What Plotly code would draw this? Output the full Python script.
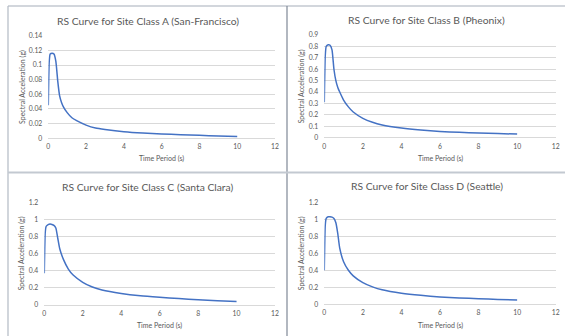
import plotly.graph_objects as go

# ---- data ----
periods = [0, 0.05, 0.1, 0.2, 0.3, 0.4, 0.5, 0.6, 0.7, 0.8, 1.0, 1.25, 1.5,
           2, 2.5, 3, 4, 5, 6, 7, 8, 9, 10]
sa_class_a = [0.045, 0.105, 0.115, 0.116, 0.115, 0.105, 0.078, 0.058, 0.049, 0.043,
              0.035, 0.028, 0.024, 0.018, 0.014, 0.012, 0.009, 0.0072, 0.006, 0.005,
              0.004, 0.003, 0.0023]
sa_class_b = [0.31, 0.72, 0.80, 0.815, 0.81, 0.77, 0.60, 0.50, 0.44, 0.40, 0.33, 0.27,
              0.225, 0.17, 0.135, 0.112, 0.085, 0.067, 0.055, 0.047, 0.041, 0.036, 0.032]
sa_class_c = [0.37, 0.85, 0.92, 0.94, 0.945, 0.94, 0.93, 0.90, 0.78, 0.66, 0.53, 0.42,
              0.35, 0.265, 0.21, 0.175, 0.135, 0.108, 0.09, 0.075, 0.062, 0.05, 0.04]
sa_class_d = [0.40, 0.93, 1.01, 1.03, 1.03, 1.025, 1.01, 0.96, 0.83, 0.66, 0.50, 0.40,
              0.335, 0.255, 0.205, 0.17, 0.13, 0.105, 0.087, 0.075, 0.065, 0.057, 0.05]

titles = ["RS Curve for Site Class A (San-Francisco)",
          "RS Curve for Site Class B (Pheonix)",
          "RS Curve for Site Class C (Santa Clara)",
          "RS Curve for Site Class D (Seattle)"]
y_ranges = [(0, 0.14, 0.02), (0, 0.9, 0.1), (0, 1.2, 0.2), (0, 1.2, 0.2)]
x_range = (0, 12, 2)
x_title = "Time Period (s)"
y_title = "Spectral Acceleration (g)"

W, H = 565, 336
# plot areas in pixels: (left, right, top, bottom)
areas = [(48.3, 275, 35.7, 138.3), (324.3, 555.7, 35, 137.7),
         (44.3, 275, 202.3, 305), (324.3, 555.7, 202.3, 304.3)]
title_pos = [(147.5, 20.5), (426.5, 20), (147.5, 186.5), (426.5, 186)]
xtitle_y = [158, 158.3, 325, 325.5]
ytitle_x = [23, 301, 21.7, 301]

FONT = "Lato"
GREY = "#595959"
GRID = "#d9d9d9"
BLUE = "#4472C4"

fig = go.Figure()
series = [sa_class_a, sa_class_b, sa_class_c, sa_class_d]
layout = dict(width=W, height=H, margin=dict(l=0, r=0, t=0, b=0, autoexpand=False),
              paper_bgcolor="white", plot_bgcolor="white", showlegend=False)
annotations = []
tfont = dict(family=FONT, size=7, color=GREY)
for i, (vals, (l, r, t, b)) in enumerate(zip(series, areas)):
    n = "" if i == 0 else str(i + 1)
    fig.add_trace(go.Scatter(x=periods, y=vals, mode="lines",
                             line=dict(color=BLUE, width=1.5, shape="spline", smoothing=0.5),
                             xaxis="x" + n, yaxis="y" + n, hoverinfo="skip"))
    y0, y1, dy = y_ranges[i]
    layout["xaxis" + n] = dict(domain=[l / W, r / W], anchor="y" + n, automargin=False,
                               range=[x_range[0], x_range[1]], dtick=x_range[2], tick0=0,
                               showgrid=False, zeroline=False, showline=False,
                               tickfont=dict(family=FONT, size=6.8, color=GREY),
                               ticklabelstandoff=3)
    layout["yaxis" + n] = dict(domain=[1 - b / H, 1 - t / H], anchor="x" + n, automargin=False,
                               range=[y0, y1], dtick=dy, tick0=0,
                               showgrid=True, gridcolor=GRID, gridwidth=0.8,
                               zeroline=True, zerolinecolor=GRID, zerolinewidth=0.8,
                               showline=False,
                               tickfont=dict(family=FONT, size=6.8, color=GREY),
                               ticklabelstandoff=5)
    tx, ty = title_pos[i]
    annotations.append(dict(text=titles[i], x=tx / W, y=1 - ty / H, xref="paper",
                            yref="paper", xanchor="center", yanchor="middle",
                            showarrow=False,
                            font=dict(family=FONT, size=10.3, color=GREY)))
    annotations.append(dict(text=x_title, x=(l + r) / 2 / W, y=1 - xtitle_y[i] / H,
                            xref="paper", yref="paper", xanchor="center", yanchor="middle",
                            showarrow=False, font=tfont))
    annotations.append(dict(text=y_title, x=0, xshift=ytitle_x[i], y=1 - (t + b) / 2 / H,
                            xref="paper", yref="paper", xanchor="center", yanchor="middle",
                            textangle=-90, showarrow=False, font=tfont))

shapes = [
    dict(type="line", xref="paper", yref="paper", x0=8 / W, x1=1, y0=1 - 6 / H, y1=1 - 6 / H,
         line=dict(color="#c3c9d1", width=1.5)),
    dict(type="line", xref="paper", yref="paper", x0=8 / W, x1=8 / W, y0=0, y1=1 - 6 / H,
         line=dict(color="#b3bac4", width=1.2)),
    dict(type="line", xref="paper", yref="paper", x0=287 / W, x1=287 / W, y0=0, y1=1 - 6 / H,
         line=dict(color="#7f8896", width=1.2)),
    dict(type="line", xref="paper", yref="paper", x0=8 / W, x1=1, y0=1 - 172.5 / H,
         y1=1 - 172.5 / H, line=dict(color="#c3c9d1", width=2)),
]
layout["annotations"] = annotations
layout["shapes"] = shapes
fig.update_layout(**layout)
fig.write_html("out.html", config={"displayModeBar": False},
               post_script="document.body.style.margin='0';document.body.style.overflow='hidden';")
